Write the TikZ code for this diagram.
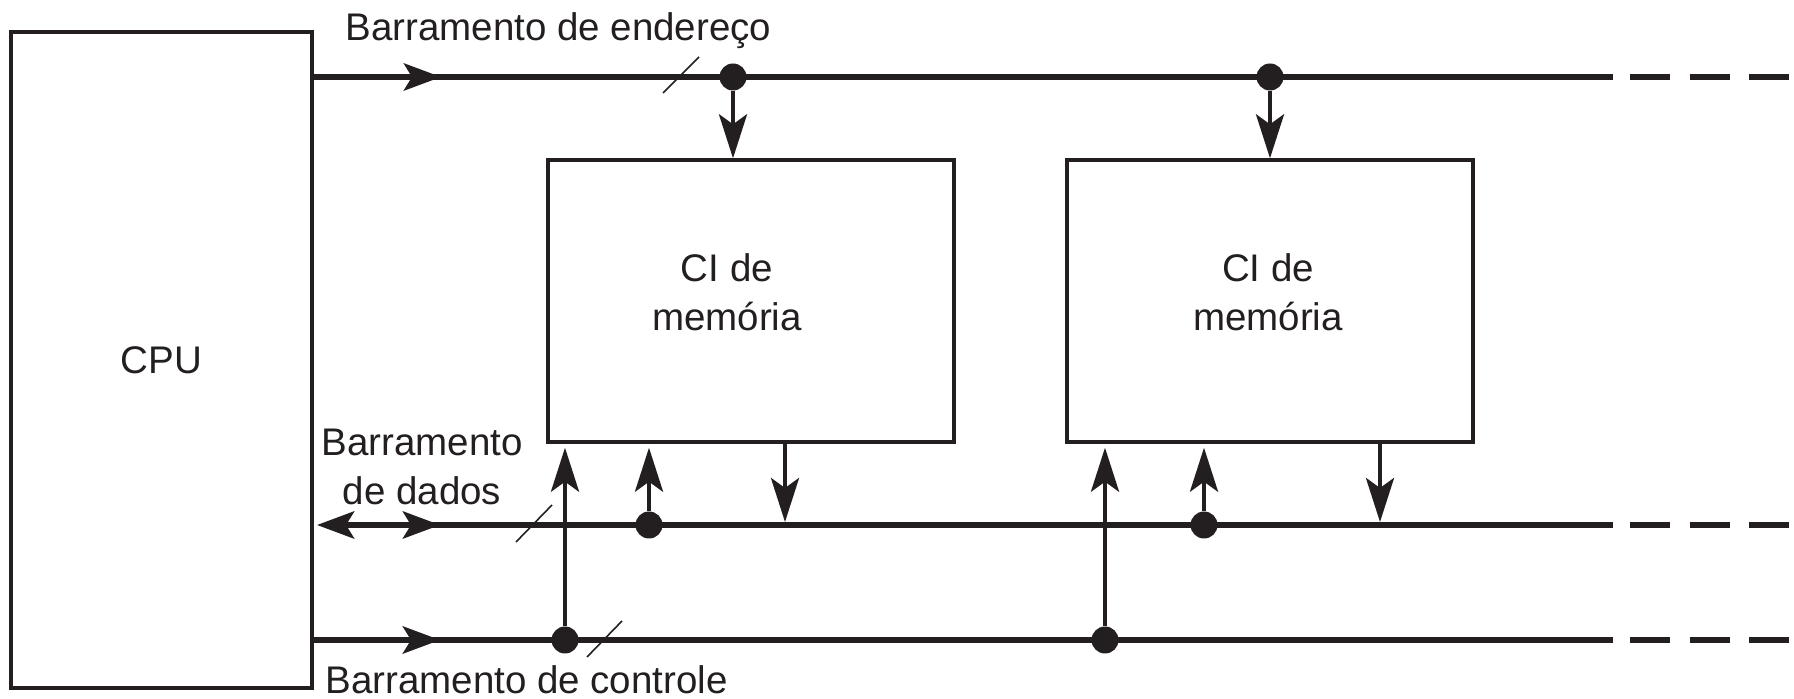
\documentclass[tikz,border=0pt]{standalone}
\usepackage{fontspec}
\setmainfont{Liberation Sans}
\usetikzlibrary{arrows.meta}
\definecolor{ink}{RGB}{35,31,32}
\begin{document}
\begin{tikzpicture}[x=0.5pt,y=-0.5pt,
  bus/.style={draw=ink,line width=3pt},
  busdash/.style={draw=ink,line width=3pt,dash pattern=on 20pt off 9.75pt},
  vline/.style={draw=ink,line width=2.2pt},
  box/.style={draw=ink,line width=1.7pt,rectangle,inner sep=0pt},
  dot/.style={circle,fill=ink,inner sep=0pt,minimum size=13.5pt},
  slash/.style={draw=ink,line width=0.8pt},
  htip/.tip={Stealth[length=18.5pt,width=13.5pt,inset=4pt]},
  vtip/.tip={Stealth[length=22pt,width=14pt,inset=5pt]},
  lbl/.style={font=\fontsize{19.25}{24.5}\selectfont,text=ink,inner sep=0pt,align=center}
]
\useasboundingbox (0,0) rectangle (1794,699);

% boxes
\node[box,lbl,minimum width=150.5pt,minimum height=328pt] (cpu) at (161.5,360) {CPU};
\node[box,minimum width=203pt,minimum height=141pt] (mem1) at (751,301) {};
\node[box,minimum width=203pt,minimum height=141pt] (mem2) at (1270,301) {};
\node[lbl] (m1t) at (727,292) {CI de\\memória};
\node[lbl] (m2t) at (1268,292) {CI de\\memória};

% labels
\node[lbl,anchor=base west] (la) at (345,41) {Barramento de endereço};
\node[lbl] (ld) at (422,467) {Barramento\\de dados};
\node[lbl,anchor=base west] (lc) at (325,693) {Barramento de controle};

% bus coordinates
\coordinate (a0) at (312,77);  \coordinate (aA) at (441,77);  \coordinate (aE) at (1613,77);
\coordinate (aD0) at (1630,77); \coordinate (aD1) at (1794,77);
\coordinate (d0) at (317,525); \coordinate (dB) at (370,525); \coordinate (dA) at (440,525);
\coordinate (dE) at (1613,525);
\coordinate (dD0) at (1630,525); \coordinate (dD1) at (1794,525);
\coordinate (c0) at (312,640); \coordinate (cA) at (440,640); \coordinate (cE) at (1613,640);
\coordinate (cD0) at (1630,640); \coordinate (cD1) at (1794,640);

% buses
\draw[bus] (a0) -- (aE);
\draw[bus,-htip] (a0) -- (aA);
\draw[busdash] (aD0) -- (aD1);
\draw[bus,htip-] (d0) -- (dE);
\draw[bus,-htip] (dB) -- (dA);
\draw[busdash] (dD0) -- (dD1);
\draw[bus] (c0) -- (cE);
\draw[bus,-htip] (c0) -- (cA);
\draw[busdash] (cD0) -- (cD1);

% width slashes
\coordinate (as0) at (663,93); \coordinate (as1) at (699,57);
\coordinate (ds0) at (516,542); \coordinate (ds1) at (552,505);
\coordinate (cs0) at (587,657); \coordinate (cs1) at (622,621);
\draw[slash] (as0) -- (as1);
\draw[slash] (ds0) -- (ds1);
\draw[slash] (cs0) -- (cs1);

% junction dots
\node[dot] (ad1) at (733,77) {};
\node[dot] (ad2) at (1270,77) {};
\node[dot] (dd1) at (649,525) {};
\node[dot] (dd2) at (1204,525) {};
\node[dot] (cd1) at (565,640) {};
\node[dot] (cd2) at (1105,640) {};
\coordinate (dn1) at (785,522);
\coordinate (dn2) at (1380,522);

% connections to memory chips
\draw[vline,-vtip] (ad1) -- (ad1 |- mem1.north);
\draw[vline,-vtip] (ad2) -- (ad2 |- mem2.north);
\draw[vline,-vtip,shorten >=2pt] (cd1) -- (cd1 |- mem1.south);
\draw[vline,-vtip,shorten >=2pt] (dd1) -- (dd1 |- mem1.south);
\draw[vline,-vtip] (dn1 |- mem1.south) -- (dn1);
\draw[vline,-vtip,shorten >=2pt] (cd2) -- (cd2 |- mem2.south);
\draw[vline,-vtip,shorten >=2pt] (dd2) -- (dd2 |- mem2.south);
\draw[vline,-vtip] (dn2 |- mem2.south) -- (dn2);
\end{tikzpicture}
\end{document}
